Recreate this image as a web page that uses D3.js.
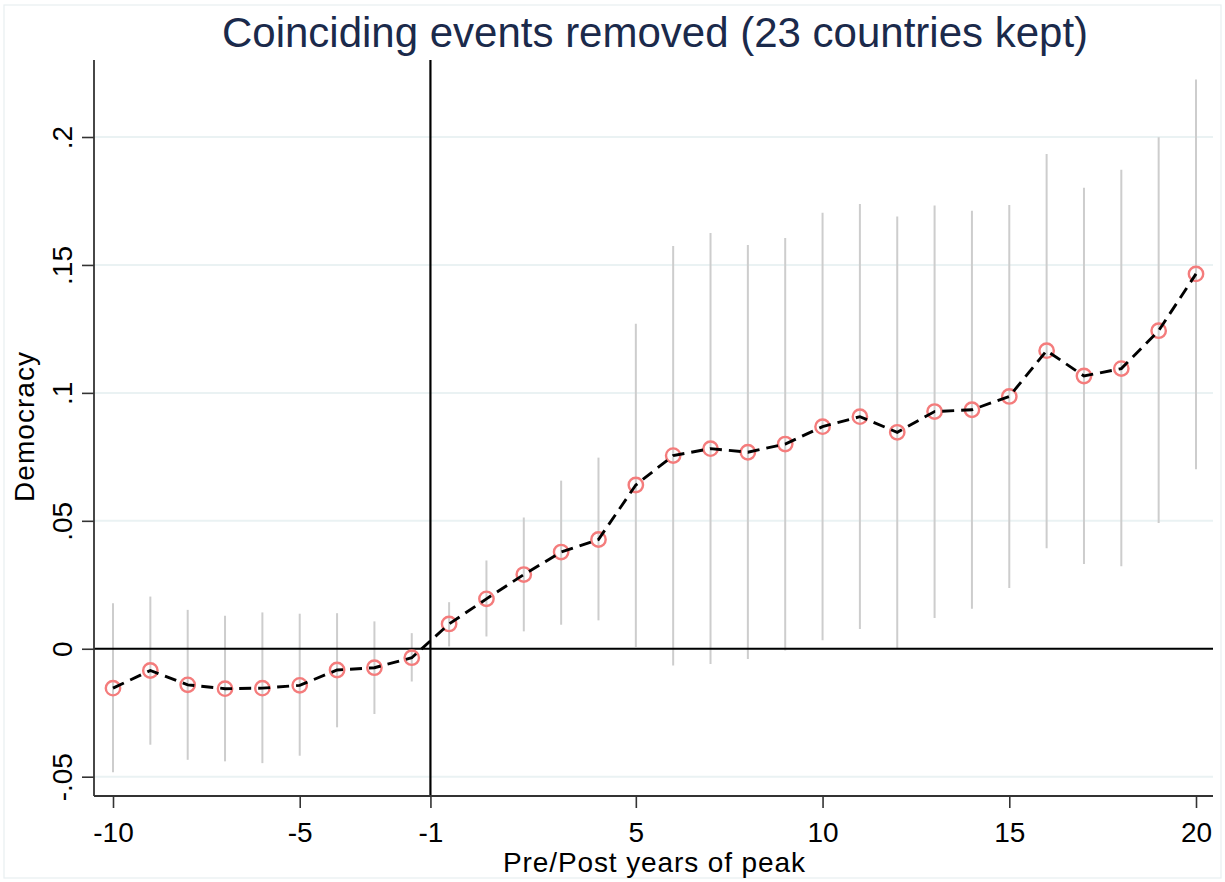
<!DOCTYPE html>
<html>
<head>
<meta charset="utf-8">
<script src="https://cdn.jsdelivr.net/npm/d3@7"></script>
<style>
  html, body { margin: 0; padding: 0; background: #fff; }
  svg { display: block; font-family: "Liberation Sans", Arial, sans-serif; }
</style>
</head>
<body>
<svg id="chart" width="1225" height="882"></svg>
<script>
// Event-study estimates: years relative to the peak (year -1 is the omitted reference)
const years = [-10, -9, -8, -7, -6, -5, -4, -3, -2,
  0, 1, 2, 3, 4, 5, 6, 7, 8, 9, 10, 11, 12, 13, 14, 15, 16, 17, 18, 19, 20];
const estimates = [-0.0154, -0.0085, -0.0141, -0.0156, -0.0154, -0.0143, -0.0083, -0.0074, -0.0035,
  0.0097, 0.0195, 0.0290, 0.0378, 0.0427, 0.0640, 0.0755, 0.0782, 0.0768, 0.0800,
  0.0868, 0.0907, 0.0846, 0.0927, 0.0934, 0.0986, 0.1165, 0.1066, 0.1095, 0.1243, 0.1465];
const ciLow = [-0.0483, -0.0375, -0.0434, -0.0440, -0.0447, -0.0418, -0.0307, -0.0255, -0.0128,
  0.0009, 0.0048, 0.0068, 0.0094, 0.0111, 0.0007, -0.0065, -0.0060, -0.0040, -0.0007,
  0.0033, 0.0077, 0.0003, 0.0120, 0.0156, 0.0237, 0.0393, 0.0331, 0.0322, 0.0491, 0.0702];
const ciHigh = [0.0178, 0.0204, 0.0152, 0.0129, 0.0142, 0.0137, 0.0139, 0.0107, 0.0061,
  0.0182, 0.0345, 0.0513, 0.0657, 0.0747, 0.1270, 0.1574, 0.1625, 0.1578, 0.1605,
  0.1704, 0.1738, 0.1689, 0.1732, 0.1712, 0.1734, 0.1934, 0.1802, 0.1872, 0.1999, 0.2225];

const xTicks = [-10, -5, -1, 5, 10, 15, 20];
const yTicks = [-0.05, 0, 0.05, 0.1, 0.15, 0.2];
const yTickLabels = ["-.05", "0", ".05", ".1", ".15", ".2"];
const referenceYear = -1;

const titleText = "Coinciding events removed (23 countries kept)";
const xTitle = "Pre/Post years of peak";
const yTitle = "Democracy";

// Layout
const plot = { left: 94, right: 1213, top: 60, bottom: 796 };
const x0 = 113, step = 37.345;

// Years are placed at equal spacing, with the omitted year -1 halfway between -2 and 0
const x = d3.scaleLinear()
  .domain([-10, -2, 0, 20])
  .range([x0, x0 + 8 * step, x0 + 9 * step, x0 + 29 * step]);
const y = d3.scaleLinear().domain([-0.05, 0.2]).range([776.7, 137]);

const svg = d3.select("#chart");

// Outer graph-region frame
svg.append("rect")
  .attr("x", 4).attr("y", 5).attr("width", 1217).attr("height", 873)
  .attr("fill", "none").attr("stroke", "#e8eff1").attr("stroke-width", 1.2);

// Title
svg.append("text")
  .attr("x", 655).attr("y", 47)
  .attr("text-anchor", "middle")
  .attr("font-size", 42)
  .attr("fill", "#1b2a4b")
  .text(titleText);

// Horizontal gridlines
svg.append("g").selectAll("line").data(yTicks).join("line")
  .attr("x1", plot.left).attr("x2", plot.right)
  .attr("y1", d => y(d)).attr("y2", d => y(d))
  .attr("stroke", "#eaf2f3").attr("stroke-width", 2);

// Confidence intervals
svg.append("g").selectAll("line").data(years).join("line")
  .attr("x1", d => x(d)).attr("x2", d => x(d))
  .attr("y1", (d, i) => y(ciLow[i])).attr("y2", (d, i) => y(ciHigh[i]))
  .attr("stroke", "#cdcdcd").attr("stroke-width", 2);

// Reference lines at zero and at the omitted year
svg.append("line")
  .attr("x1", plot.left).attr("x2", plot.right)
  .attr("y1", y(0)).attr("y2", y(0))
  .attr("stroke", "#000").attr("stroke-width", 2.2);
svg.append("line")
  .attr("x1", x(referenceYear)).attr("x2", x(referenceYear))
  .attr("y1", plot.top).attr("y2", plot.bottom)
  .attr("stroke", "#000").attr("stroke-width", 2.2);

// Hollow markers, then the dashed connecting line over them
const pts = years.map((d, i) => [d, estimates[i]]);
svg.append("g").selectAll("circle").data(pts).join("circle")
  .attr("cx", d => x(d[0])).attr("cy", d => y(d[1]))
  .attr("r", 7.2)
  .attr("fill", "none")
  .attr("stroke", "#f47c7c").attr("stroke-width", 2.4);

svg.append("path")
  .datum(pts)
  .attr("fill", "none")
  .attr("stroke", "#000")
  .attr("stroke-width", 2.9)
  .attr("stroke-dasharray", "12,7")
  .attr("d", d3.line().x(d => x(d[0])).y(d => y(d[1])));

// Axes
const yAxis = d3.axisLeft(y).tickValues(yTicks)
  .tickFormat((d, i) => yTickLabels[i]).tickSize(12).tickPadding(0);
const gy = svg.append("g").attr("transform", `translate(${plot.left},0)`).call(yAxis);
gy.select(".domain").remove();
gy.selectAll(".tick line").attr("stroke", "#333").attr("stroke-width", 1.6);
gy.selectAll(".tick text")
  .attr("font-size", 28).attr("fill", "#000")
  .attr("text-anchor", "middle")
  .attr("transform", "translate(-22,0) rotate(-90)")
  .attr("x", 0).attr("dy", 0).attr("y", 0);

const xAxis = d3.axisBottom(x).tickValues(xTicks).tickFormat(d => String(d)).tickSize(12).tickPadding(0);
const gx = svg.append("g").attr("transform", `translate(0,${plot.bottom})`).call(xAxis);
gx.select(".domain").remove();
gx.selectAll(".tick line").attr("stroke", "#333").attr("stroke-width", 1.6);
gx.selectAll(".tick text")
  .attr("font-size", 28).attr("fill", "#000")
  .attr("y", 46).attr("dy", 0);

// Axis lines
svg.append("line")
  .attr("x1", plot.left).attr("x2", plot.left)
  .attr("y1", plot.top).attr("y2", plot.bottom)
  .attr("stroke", "#333").attr("stroke-width", 1.8);
svg.append("line")
  .attr("x1", plot.left).attr("x2", plot.right)
  .attr("y1", plot.bottom).attr("y2", plot.bottom)
  .attr("stroke", "#333").attr("stroke-width", 1.8);

// Axis titles
svg.append("text")
  .attr("x", (503 + 805) / 2).attr("y", 872)
  .attr("text-anchor", "middle")
  .attr("font-size", 28)
  .attr("textLength", 302)
  .attr("fill", "#000")
  .text(xTitle);

svg.append("text")
  .attr("transform", "translate(34,427) rotate(-90)")
  .attr("text-anchor", "middle")
  .attr("font-size", 28)
  .attr("textLength", 150)
  .attr("fill", "#000")
  .text(yTitle);
</script>
</body>
</html>
